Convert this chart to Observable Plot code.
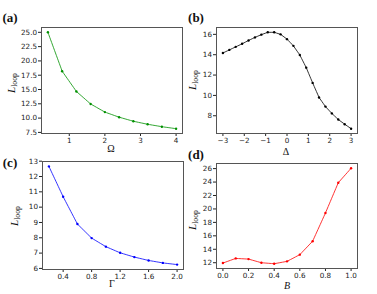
<!DOCTYPE html>
<html><head><meta charset="utf-8">
<script src="https://cdn.jsdelivr.net/npm/d3@7"></script>
<script src="https://cdn.jsdelivr.net/npm/@observablehq/plot@0.6"></script>
<style>
html,body{margin:0;padding:0;background:#fff;}
#root{position:relative;width:377px;height:294px;overflow:hidden;background:#fff;}
#root svg{position:absolute;left:0;top:0;background:transparent;overflow:visible;}
.lab{position:absolute;font-family:"Liberation Serif","DejaVu Serif",serif;color:#111;white-space:nowrap;transform:translate(-50%,-50%);line-height:1;}
.pl{font-weight:bold;font-size:13px;}
.xl{font-size:10px;}
.yl{font-size:11px;transform:translate(-50%,-50%) rotate(-90deg);}
.yl sub{font-size:0.7em;font-style:normal;vertical-align:-0.3em;}
</style></head>
<body><div id="root"></div>
<script>
// Panel (a): L_loop vs Omega
const omega = [0.4,0.8,1.2,1.6,2.0,2.4,2.8,3.2,3.6,4.0];
const lOmega = [25.0,18.2,14.66,12.47,11.05,10.16,9.45,8.92,8.5,8.15];
// Panel (b): L_loop vs Delta
const delta = [-3,-2.7,-2.4,-2.1,-1.8,-1.5,-1.2,-0.9,-0.6,-0.3,0,0.3,0.6,0.9,1.2,1.5,1.8,2.1,2.4,2.7,3.0];
const lDelta = [14.17,14.47,14.77,15.07,15.4,15.7,15.97,16.2,16.2,16.0,15.53,14.87,13.97,12.73,11.23,9.8,8.9,8.23,7.63,7.17,6.73];
// Panel (c): L_loop vs Gamma
const gamma = [0.2,0.4,0.6,0.8,1.0,1.2,1.4,1.6,1.8,2.0];
const lGamma = [12.66,10.68,8.9,7.98,7.42,7.02,6.74,6.52,6.36,6.25];
// Panel (d): L_loop vs B
const bVals = [0.0,0.1,0.2,0.3,0.4,0.5,0.6,0.7,0.8,0.9,1.0];
const lB = [11.95,12.64,12.54,12.0,11.85,12.2,13.2,15.2,19.4,23.9,26.05];
// ticks
const xTicksA = [1,2,3,4], yTicksA = [7.5,10,12.5,15,17.5,20,22.5,25];
const xTicksB = [-3,-2,-1,0,1,2,3], yTicksB = [8,10,12,14,16];
const xTicksC = [0.4,0.8,1.2,1.6,2.0], yTicksC = [6,7,8,9,10,11,12,13];
const xTicksD = [0,0.2,0.4,0.6,0.8,1.0], yTicksD = [12,14,16,18,20,22,24,26];

const W = 377, H = 294;
const root = document.getElementById("root");

function pad(arr){const lo=d3.min(arr),hi=d3.max(arr),m=(hi-lo)*0.05;return [lo-m,hi+m];}

function panel(xs, ys, color, frame, xTicks, yTicks, xFmt, yFmt){
  const data = xs.map((x,i)=>({x, y: ys[i]}));
  const p = Plot.plot({
    width: W, height: H,
    marginLeft: frame[0], marginRight: W-frame[1], marginTop: frame[2], marginBottom: H-frame[3],
    style: {fontFamily:"DejaVu Sans", fontSize:"7.2px", color:"#222", background:"transparent", overflow:"visible"},
    x: {domain: pad(xs)},
    y: {domain: pad(ys)},
    marks: [
      Plot.axisX({ticks: xTicks, tickSize: 3, tickPadding: 1, tickFormat: xFmt, label: null}),
      Plot.axisY({ticks: yTicks, tickSize: 3, tickPadding: 1.5, tickFormat: yFmt, label: null}),
      Plot.line(data, {x:"x", y:"y", stroke: color, strokeWidth: 0.8, strokeDasharray: "2,0.8"}),
      Plot.dot(data, {x:"x", y:"y", fill: color, r: 1.2}),
      Plot.frame({stroke:"#555", strokeWidth: 1})
    ]
  });
  root.appendChild(p);
}

panel(omega, lOmega, "#009000", [41,182,27,133], xTicksA, yTicksA, d3.format("d"), d3.format(".1f"));
panel(delta, lDelta, "#000", [216,357,27,133], xTicksB, yTicksB, d3.format("d"), d3.format("d"));
panel(gamma, lGamma, "#0000ff", [42,183,161,269], xTicksC, yTicksC, d3.format(".1f"), d3.format("d"));
panel(bVals, lB, "#ff0000", [216,357,163,268], xTicksD, yTicksD, d3.format(".1f"), d3.format("d"));

function lab(cls, html, x, y){const d=document.createElement("div");d.className="lab "+cls;d.innerHTML=html;d.style.left=x+"px";d.style.top=y+"px";root.appendChild(d);}
lab("pl","(a)",10,17);
lab("pl","(b)",196,17);
lab("pl","(c)",10,162);
lab("pl","(d)",196,154);
const LL = "<i>L</i><sub>loop</sub>";
lab("yl",LL,12,83);
lab("yl",LL,193,80);
lab("yl",LL,15,216);
lab("yl",LL,193,220);
lab("xl","Ω",111,149);
lab("xl","Δ",286,152);
lab("xl","Γ",112,284);
lab("xl","<i>B</i>",287,286);
</script></body></html>
